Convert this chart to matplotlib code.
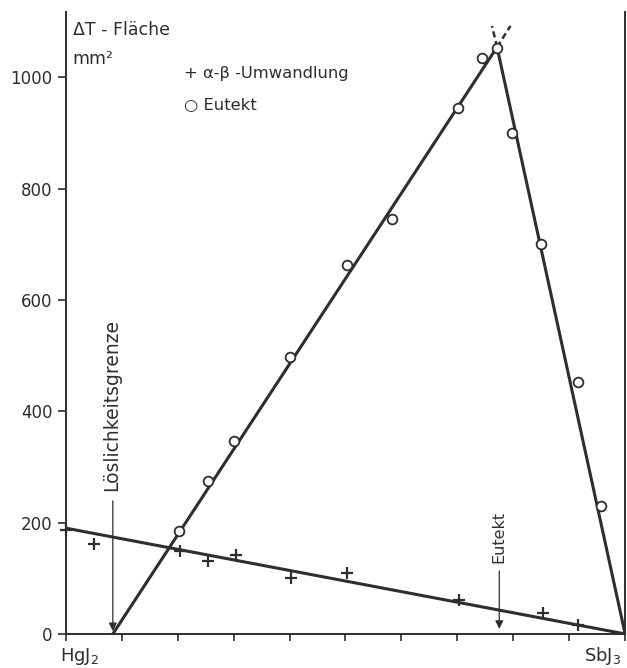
import numpy as np
import matplotlib
matplotlib.use('Agg')
import matplotlib.pyplot as plt

# Eutekt (circles): mole fraction SbJ3, Delta-T area in mm^2
eut_x = [0.202, 0.254, 0.300, 0.401, 0.503, 0.583, 0.701, 0.744, 0.771, 0.798, 0.850, 0.916, 0.957]
eut_y = [185, 275, 347, 497, 662, 745, 944, 1034, 1052, 899, 700, 452, 230]

# alpha-beta Umwandlung (crosses)
ab_x = [0.0, 0.050, 0.204, 0.254, 0.304, 0.403, 0.503, 0.703, 0.853, 0.916]
ab_y = [187, 162, 149, 131, 142, 101, 110, 61, 38, 16]

# fitted straight lines
left_line_x = [0.084, 0.771]
left_line_y = [0, 1054]
right_line_x = [0.771, 1.0]
right_line_y = [1054, 0]
ab_line_x = [0.0, 1.0]
ab_line_y = [190, 0]

loes_x = 0.084
eut_pos = 0.775

yticks = [0, 200, 400, 600, 800, 1000]
xticks = np.arange(0, 1.01, 0.1)

col = '#2e2e2e'
plt.rcParams['font.family'] = ['DejaVu Sans']

fig = plt.figure(figsize=(6.27, 6.68), dpi=100)
ax = fig.add_axes([0.105, 0.051, 0.892, 0.931])

ax.plot(left_line_x, left_line_y, color=col, lw=2.2)
ax.plot(right_line_x, right_line_y, color=col, lw=2.2)
ax.plot(ab_line_x, ab_line_y, color=col, lw=2.2)

# dashed extensions beyond the intersection
ax.plot([0.771, 0.795], [1054, 1092], color=col, lw=1.8, ls=(0, (2.5, 1.5)))
ax.plot([0.771, 0.762], [1054, 1092], color=col, lw=1.8, ls=(0, (2.5, 1.5)))

ax.plot(eut_x, eut_y, 'o', ms=7, mfc='white', mec=col, mew=1.3)
ax.plot(ab_x, ab_y, '+', ms=9, color=col, mew=1.6, clip_on=False)

# Löslichkeitsgrenze arrow
ax.annotate('', xy=(loes_x, 0), xytext=(loes_x, 244),
            arrowprops=dict(arrowstyle='-|>', color=col, lw=0.9, mutation_scale=12))
ax.text(loes_x - 0.003, 256, 'Löslichkeitsgrenze', rotation=90, ha='center', va='bottom',
        fontsize=13.5, color=col)

# Eutekt arrow
ax.annotate('', xy=(eut_pos, 4), xytext=(eut_pos, 118),
            arrowprops=dict(arrowstyle='-|>', color=col, lw=0.9, mutation_scale=12))
ax.text(eut_pos, 128, 'Eutekt', rotation=90, ha='center', va='bottom',
        fontsize=11.5, color=col)

# axis title and legend (drawn as text like the original)
ax.text(0.012, 1085, 'ΔT - Fläche', fontsize=12.5, color=col, va='center')
ax.text(0.012, 1033, 'mm²', fontsize=12.5, color=col, va='center')
ax.text(0.212, 1007, '+ α-β -Umwandlung', fontsize=11.8, color=col, va='center')
ax.text(0.212, 950, '○ Eutekt', fontsize=11.8, color=col, va='center')

ax.text(0.025, -40, 'HgJ$_2$', fontsize=13, color=col, ha='center', va='center')
ax.text(0.96, -40, 'SbJ$_3$', fontsize=13, color=col, ha='center', va='center')

ax.set_xlim(0, 1)
ax.set_ylim(0, 1117)
ax.set_yticks(yticks)
ax.set_xticks(xticks)
ax.set_xticklabels([])
ax.tick_params(axis='y', labelsize=12, colors=col, length=6, width=1.2, direction='out')
ax.tick_params(axis='x', length=5, width=1.2, direction='out', colors=col)
ax.spines['top'].set_visible(False)
for s in ['left', 'right', 'bottom']:
    ax.spines[s].set_color(col)
    ax.spines[s].set_linewidth(1.4)

fig.savefig('out.png', dpi=100)
